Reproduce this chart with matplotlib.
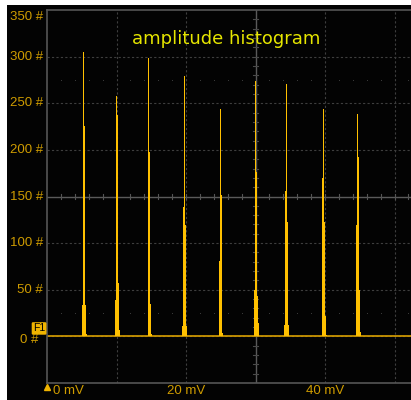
import matplotlib
matplotlib.use("Agg")
import matplotlib.pyplot as plt
from matplotlib.patches import Rectangle
import numpy as np

# histogram spikes: start of first bin (mV) and bin counts
bin_width = 0.145
peak_starts = [5.04, 9.78, 14.53, 19.42, 24.75, 29.78, 34.10, 39.57, 44.46]
peak_counts = [
    [34, 305, 226, 34, 3],
    [39, 258, 237, 57, 7],
    [299, 198, 35, 3],
    [11, 139, 279, 119, 11],
    [81, 244, 152, 4],
    [50, 274, 176, 43, 14],
    [12, 156, 271, 123, 12],
    [170, 244, 123, 22, 2],
    [119, 239, 192, 50, 5],
]

y_ticks = [350, 300, 250, 200, 150, 100, 50, 0]
x_ticks = [0, 20, 40]
x_grid = [10, 20, 40, 50]
y_grid = [0, 50, 100, 200, 250, 300]

bar_color = "#ffc000"
label_color = "#cf9c00"
grid_color = "#3e3e3e"

fig = plt.figure(figsize=(4.11, 4.0), dpi=100)
fig.patch.set_facecolor("white")
fig.patches.append(Rectangle((7 / 411, 0), 1, 395 / 400, transform=fig.transFigure,
                             facecolor="#030303", edgecolor="none", zorder=-5))

# plot area runs past the right edge of the picture (cropped screen)
ax = fig.add_axes([47 / 411, 17 / 400, 417 / 411, 373 / 400])
ax.set_zorder(2)
ax.set_facecolor("#030303")
ax.set_xlim(0, 60)
ax.set_ylim(-50, 350)
ax.set_xticks([])
ax.set_yticks([])
for side in ["left", "top", "bottom"]:
    ax.spines[side].set_color("#555555")
    ax.spines[side].set_linewidth(1.2)
ax.spines["right"].set_visible(False)

# graticule
for x in x_grid:
    ax.axvline(x, color=grid_color, lw=0.8, ls=(0, (2, 2)), zorder=1)
for y in y_grid:
    ax.axhline(y, color=grid_color, lw=0.8, ls=(0, (2, 2)), zorder=1)
ax.axvline(30, color="#5a5a5a", lw=1.0, zorder=1)
ax.axhline(150, color="#5a5a5a", lw=1.0, zorder=1)
for x in np.arange(2, 60, 2):
    ax.plot([x, x], [147.5, 152.5], color="#555555", lw=0.8, zorder=1)
for y in np.arange(-40, 350, 10):
    ax.plot([29.7, 30.3], [y, y], color="#4a4a4a", lw=0.8, zorder=1)
for yrow in [275, 25]:
    xs = [x for x in np.arange(2, 60, 2) if x % 10 != 0]
    ax.plot(xs, [yrow] * len(xs), ls="none", marker="s", ms=0.7,
            markeredgewidth=0, color="#3a3a3a", zorder=1)

# baseline
ax.axhline(0, color="#d9a000", lw=1.2, zorder=2)

# histogram bars
for start, counts in zip(peak_starts, peak_counts):
    xs = start + bin_width * np.arange(len(counts))
    ax.bar(xs, counts, width=bin_width, align="edge", color=bar_color,
           linewidth=0, zorder=3)

# y labels
ytr = ax.get_yaxis_transform()
for v in y_ticks:
    if v == 350:
        ax.text(-0.0096, 342, f"{v} #", transform=ytr, ha="right", va="center",
                color=label_color, fontsize=9.5, family="Liberation Sans")
    elif v == 0:
        ax.text(-0.02, -4, f"{v} #", transform=ytr, ha="right", va="center",
                color=label_color, fontsize=9.5, family="Liberation Sans")
    else:
        ax.text(-0.0096, v, f"{v} #", transform=ytr, ha="right", va="center",
                color=label_color, fontsize=9.5, family="Liberation Sans")
ax.text(-0.019, 8.5, "F1", transform=ytr, ha="center", va="center",
        color="black", fontsize=7.5, family="Liberation Sans", zorder=6,
        bbox=dict(boxstyle="round,pad=0.12", facecolor="#f0b400", edgecolor="none"))

# x labels
xtr = ax.get_xaxis_transform()
for v in x_ticks:
    if v == 0:
        ax.text(0.86, -0.0215, f"{v} mV", transform=xtr, ha="left", va="center",
                color=label_color, fontsize=9.5, family="Liberation Sans")
        ax.plot([0], [-0.012], transform=xtr, marker="^", ms=5, color="#f0b400",
                clip_on=False, zorder=6)
    else:
        ax.text(v, -0.0215, f"{v} mV", transform=xtr, ha="center", va="center",
                color=label_color, fontsize=9.5, family="Liberation Sans")

fig.text(226 / 411, 1 - 39 / 400, "amplitude histogram", ha="center", va="center",
         color="#e6e600", fontsize=13, family="DejaVu Sans", zorder=10)

fig.savefig("out.png", dpi=100, facecolor=fig.get_facecolor())
